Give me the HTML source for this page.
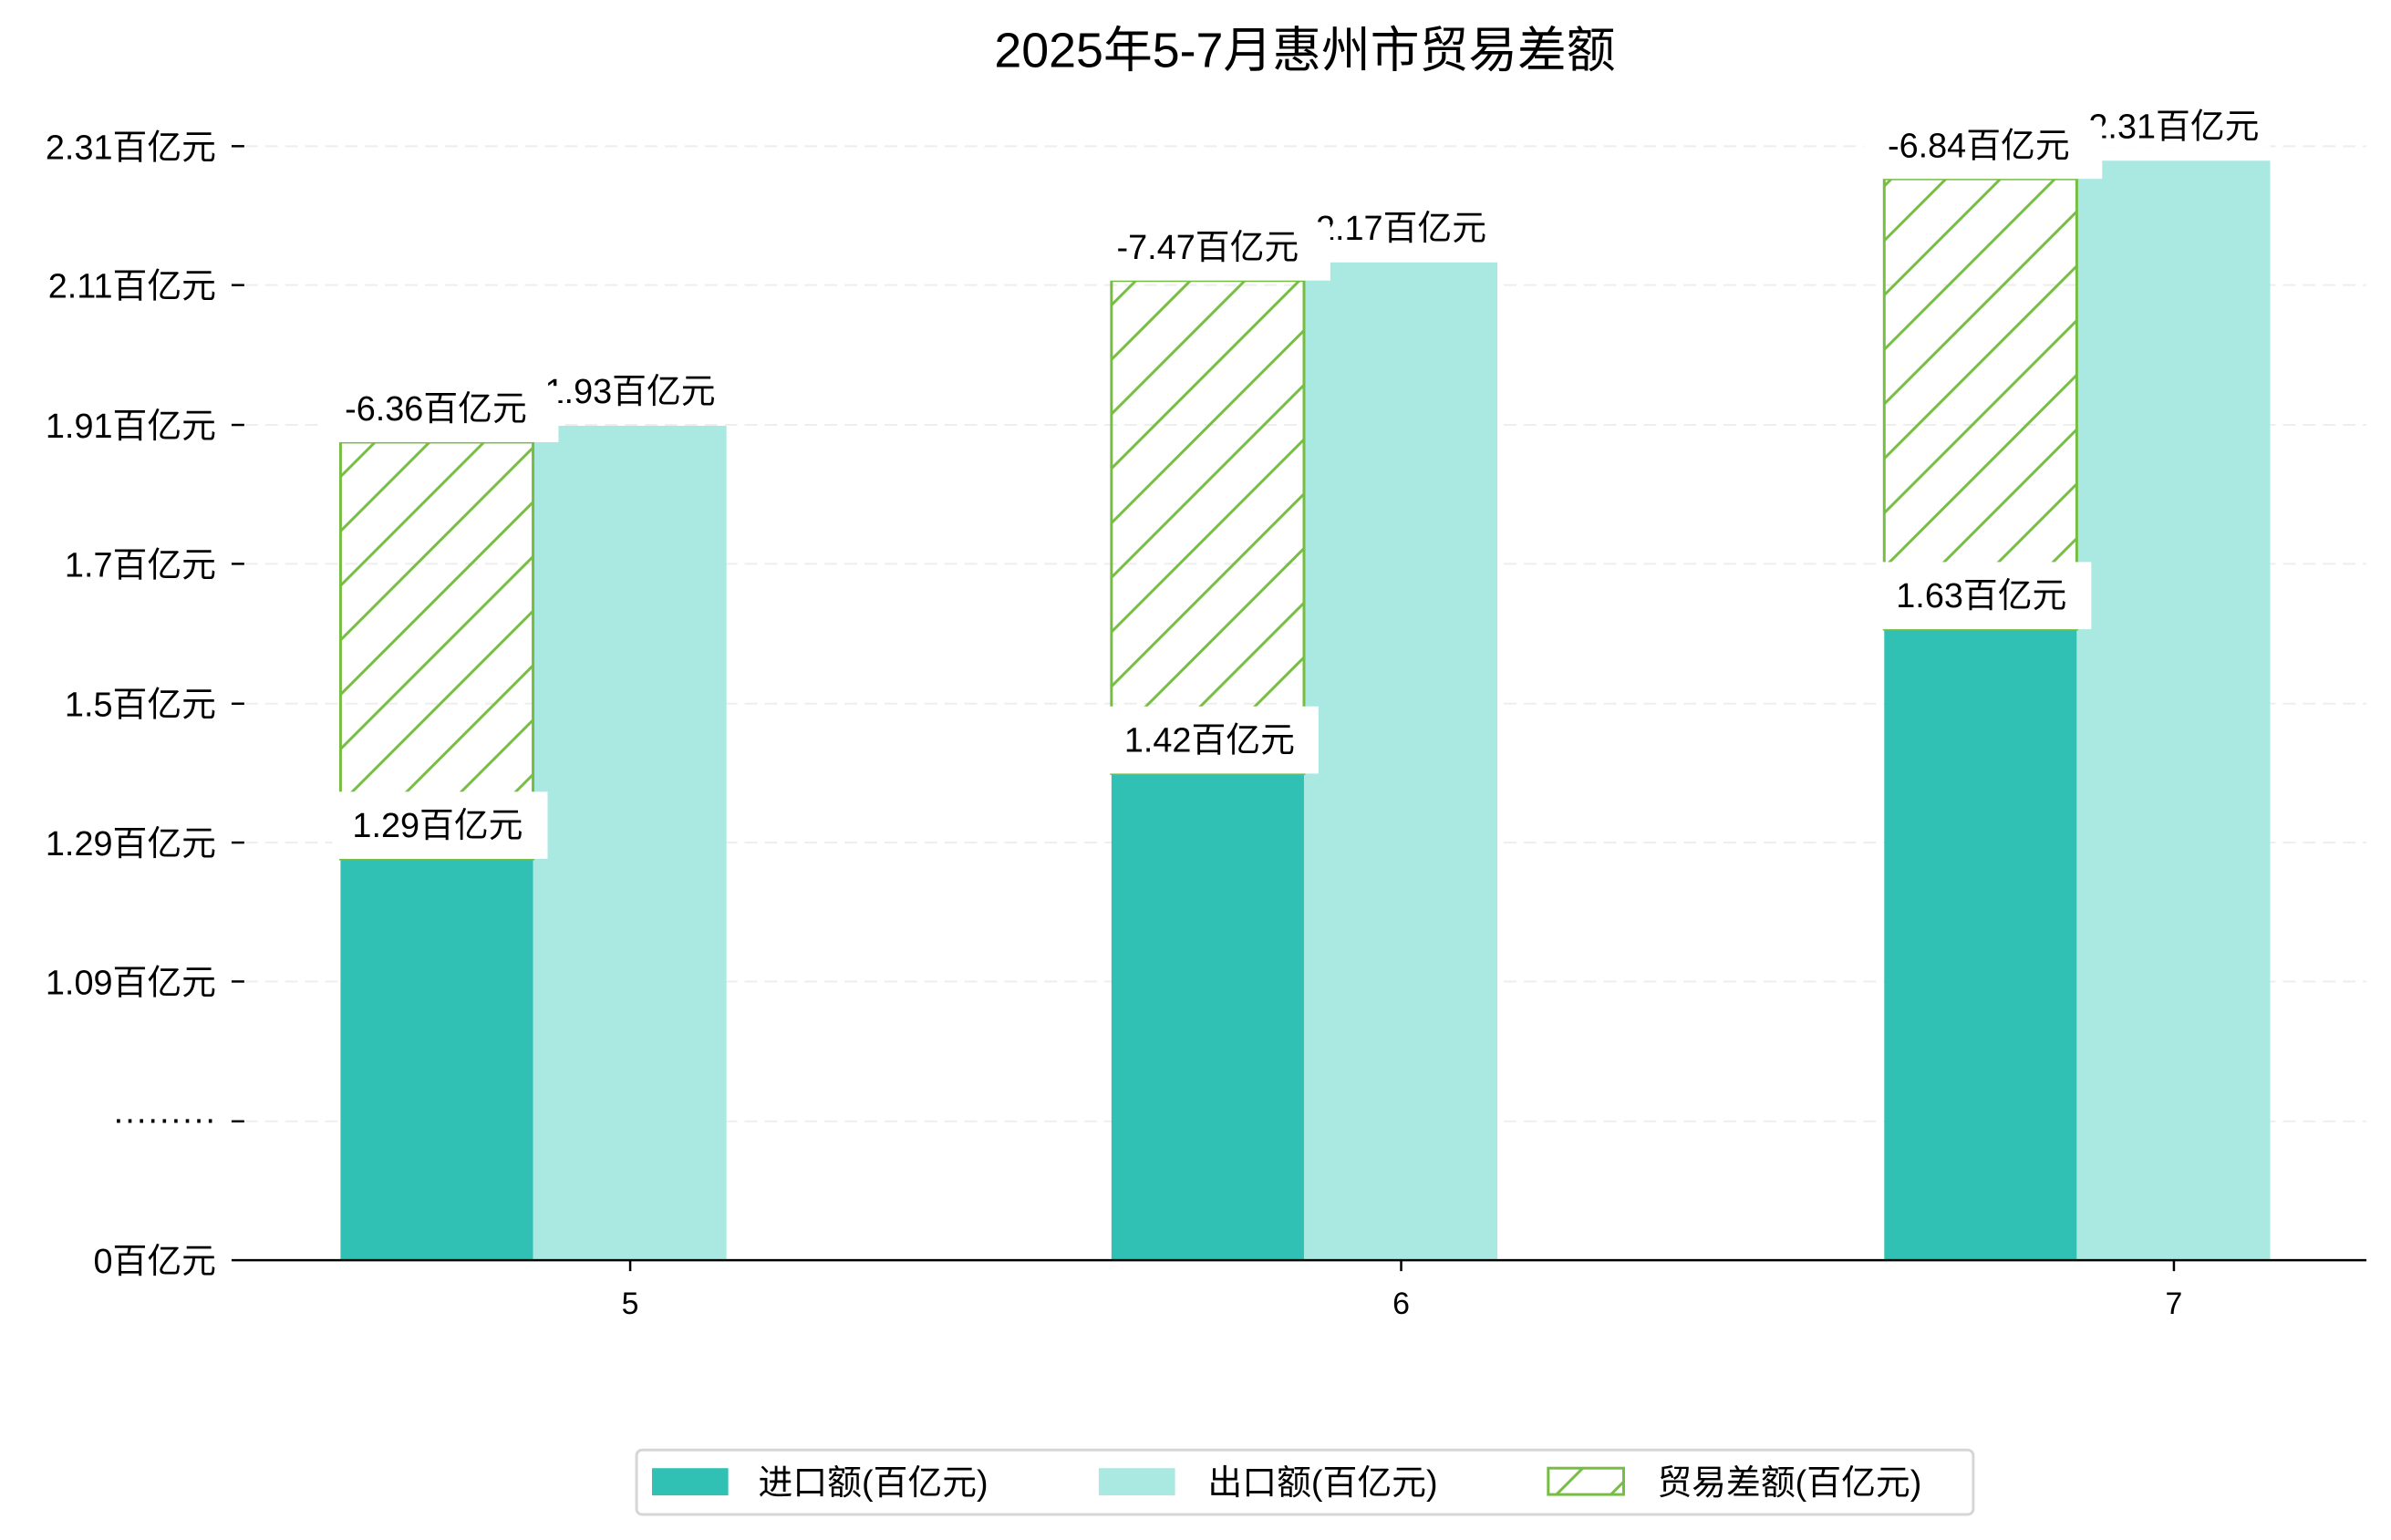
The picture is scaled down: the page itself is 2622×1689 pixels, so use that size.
<!DOCTYPE html>
<html><head><meta charset="utf-8"><style>
html,body{margin:0;padding:0;background:#fff;}
svg{display:block;font-family:"Liberation Sans","Noto Sans CJK SC",sans-serif;}
</style></head><body>
<svg width="2622" height="1689" viewBox="0 0 2622 1689" xmlns="http://www.w3.org/2000/svg">
<defs>
<pattern id="h" patternUnits="userSpaceOnUse" width="60" height="60">
<line x1="-5" y1="65" x2="65" y2="-5" stroke="#77bd43" stroke-width="3"/>
<line x1="-35" y1="35" x2="35" y2="-35" stroke="#77bd43" stroke-width="3"/>
<line x1="25" y1="95" x2="95" y2="25" stroke="#77bd43" stroke-width="3"/>
</pattern>
</defs>
<rect width="2622" height="1689" fill="#fff"/>
<g transform="scale(0.9958)">
<text x="1437" y="74" font-size="54" text-anchor="middle" fill="#000">2025年5-7月惠州市贸易差额</text>
<g stroke="#eeeeee" stroke-width="2" stroke-dasharray="14,8">
<line x1="270" y1="161" x2="2606" y2="161"/>
<line x1="270" y1="314" x2="2606" y2="314"/>
<line x1="270" y1="468" x2="2606" y2="468"/>
<line x1="270" y1="621" x2="2606" y2="621"/>
<line x1="270" y1="775" x2="2606" y2="775"/>
<line x1="270" y1="928" x2="2606" y2="928"/>
<line x1="270" y1="1081" x2="2606" y2="1081"/>
<line x1="270" y1="1235" x2="2606" y2="1235"/>
</g>
<g stroke="#000" stroke-width="2.5">
<line x1="255" y1="161" x2="269" y2="161"/>
<line x1="255" y1="314" x2="269" y2="314"/>
<line x1="255" y1="468" x2="269" y2="468"/>
<line x1="255" y1="621" x2="269" y2="621"/>
<line x1="255" y1="775" x2="269" y2="775"/>
<line x1="255" y1="928" x2="269" y2="928"/>
<line x1="255" y1="1081" x2="269" y2="1081"/>
<line x1="255" y1="1235" x2="269" y2="1235"/>
<line x1="694" y1="1388" x2="694" y2="1400"/>
<line x1="1543" y1="1388" x2="1543" y2="1400"/>
<line x1="2394" y1="1388" x2="2394" y2="1400"/>
</g>
<g font-size="38" text-anchor="end" fill="#000">
<text x="238" y="175">2.31百亿元</text>
<text x="238" y="328">2.11百亿元</text>
<text x="238" y="482">1.91百亿元</text>
<text x="238" y="635">1.7百亿元</text>
<text x="238" y="789">1.5百亿元</text>
<text x="238" y="942">1.29百亿元</text>
<text x="238" y="1095">1.09百亿元</text>
<text x="238" y="1245">·········</text>
<text x="238" y="1402">0百亿元</text>
</g>
<g font-size="34" text-anchor="middle" fill="#000">
<text x="694" y="1447">5</text>
<text x="1543" y="1447">6</text>
<text x="2394" y="1447">7</text>
</g>
<g>
<rect x="375" y="946" width="212" height="442" fill="#31c0b4"/>
<rect x="587" y="469" width="213" height="919" fill="#aae8e2"/>
<rect x="1224" y="852" width="212" height="536" fill="#31c0b4"/>
<rect x="1436" y="289" width="213" height="1099" fill="#aae8e2"/>
<rect x="2075" y="693" width="212" height="695" fill="#31c0b4"/>
<rect x="2287" y="177" width="213" height="1211" fill="#aae8e2"/>
</g>
<g stroke="#77bd43" stroke-width="3" fill="url(#h)">
<rect x="375" y="487" width="212" height="459"/>
<rect x="1224" y="309" width="212" height="543"/>
<rect x="2075" y="197" width="212" height="496"/>
</g>
<line x1="255" y1="1388" x2="2606" y2="1388" stroke="#000" stroke-width="2.5"/>
<g font-size="38" text-anchor="middle" fill="#000">
<rect x="590" y="408" width="210" height="46" fill="#fff"/>
<text x="694" y="444">1.93百亿元</text>
<rect x="1440" y="228" width="210" height="46" fill="#fff"/>
<text x="1543" y="264">2.17百亿元</text>
<rect x="2290" y="116" width="210" height="46" fill="#fff"/>
<text x="2394" y="152">2.31百亿元</text>

<rect x="353" y="425" width="262" height="62" fill="#fff"/>
<text x="480" y="463">-6.36百亿元</text>
<rect x="1204" y="247" width="261" height="62" fill="#fff"/>
<text x="1330" y="285">-7.47百亿元</text>
<rect x="2053" y="135" width="262" height="62" fill="#fff"/>
<text x="2179" y="173">-6.84百亿元</text>

<rect x="366" y="872" width="237" height="74" fill="#fff"/>
<text x="482" y="922">1.29百亿元</text>
<rect x="1215" y="778" width="237" height="74" fill="#fff"/>
<text x="1332" y="828">1.42百亿元</text>
<rect x="2066" y="619" width="237" height="74" fill="#fff"/>
<text x="2182" y="669">1.63百亿元</text>
</g>
<rect x="701" y="1597" width="1472" height="71" rx="6" fill="#fff" stroke="#d6d6d6" stroke-width="3"/>
<rect x="718" y="1617" width="84" height="30" fill="#31c0b4"/>
<rect x="1210" y="1617" width="84" height="30" fill="#aae8e2"/>
<rect x="1705" y="1617" width="83" height="29" fill="url(#h)" stroke="#77bd43" stroke-width="3"/>
<g font-size="38" fill="#000">
<text x="835" y="1646">进口额(百亿元)</text>
<text x="1330" y="1646">出口额(百亿元)</text>
<text x="1825" y="1646">贸易差额(百亿元)</text>
</g>
</g>
</svg>
</body></html>
